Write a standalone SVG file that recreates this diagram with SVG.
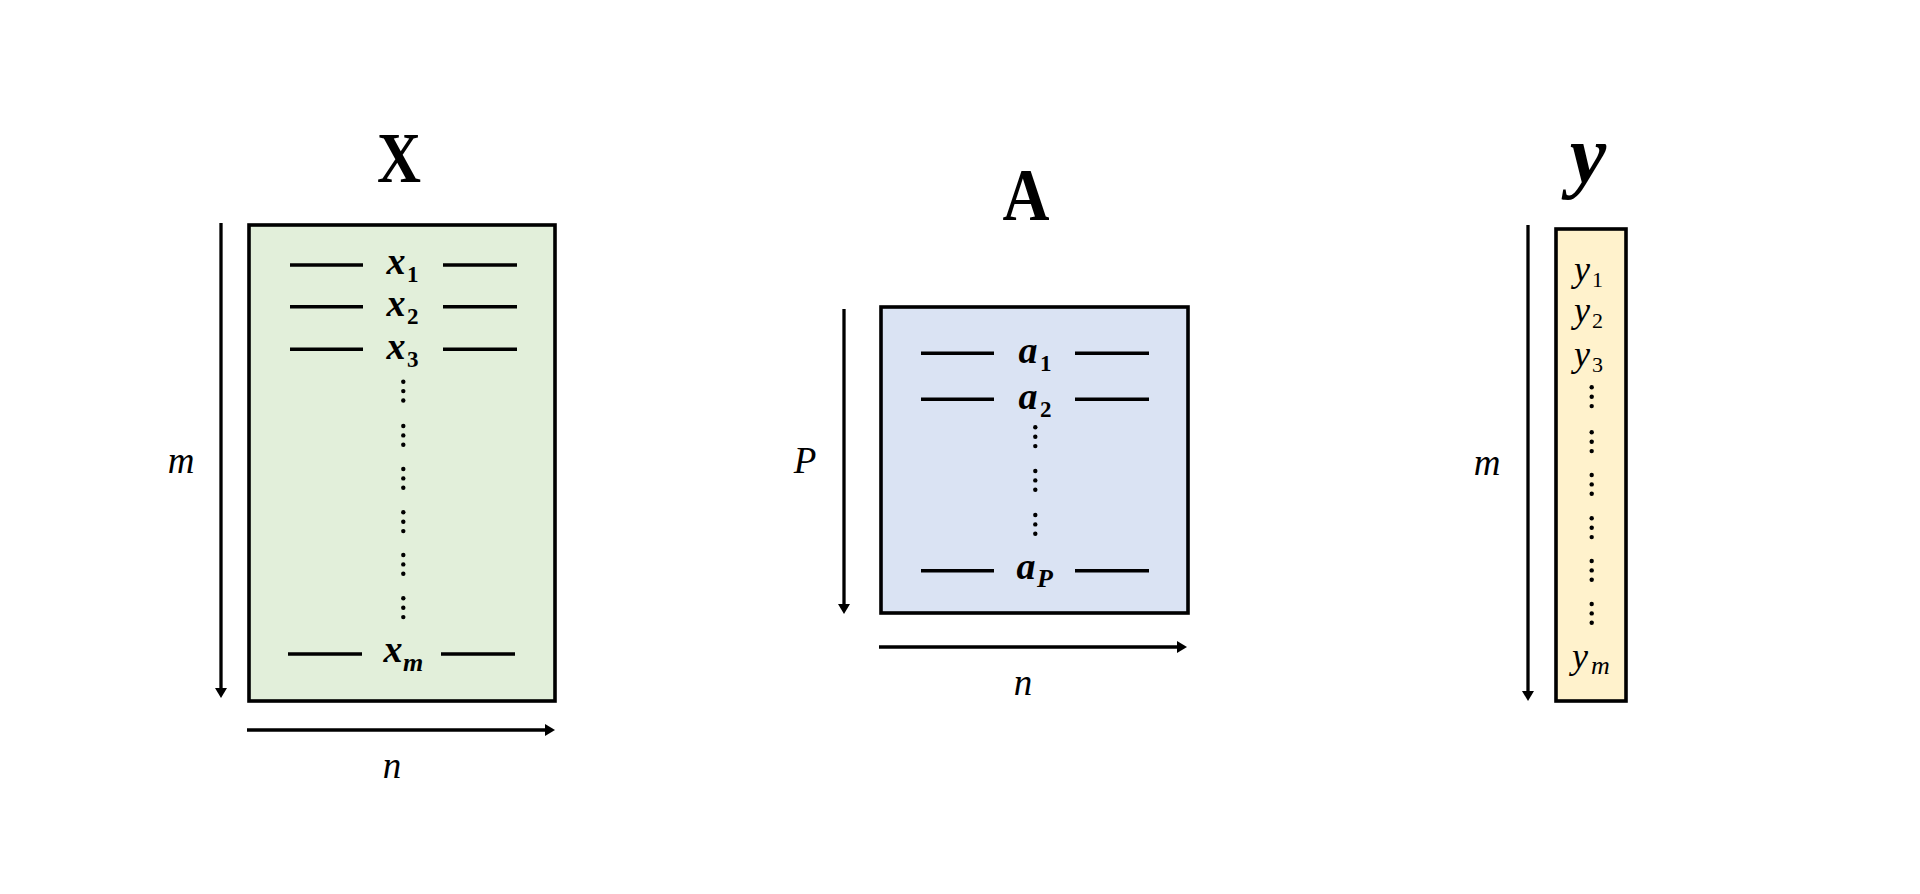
<svg xmlns="http://www.w3.org/2000/svg" xmlns:xlink="http://www.w3.org/1999/xlink" width="1920" height="894" viewBox="0 0 1920 894">
  <style>
    .box { stroke: #000; stroke-width: 3.6; }
    .row { stroke: #000; stroke-width: 3.4; }
    .axis { stroke: #000; stroke-width: 3.3; fill: none; }
    .t { font-family: "Liberation Serif", "Times New Roman", serif; fill: #000; }
    .title { font-weight: bold; text-anchor: middle; }
    .vb { font-weight: bold; font-style: italic; font-size: 38px; text-anchor: middle; }
    .sb { font-weight: bold; font-size: 23px; }
    .sbi { font-weight: bold; font-style: italic; font-size: 26px; }
    .dim { font-style: italic; font-size: 37px; text-anchor: middle; }
    .yi { font-style: italic; font-size: 36px; text-anchor: middle; }
    .ys { font-size: 22px; }
    .ysi { font-style: italic; font-size: 26px; }
  </style>
  <defs>
    <marker id="arrow" viewBox="0 0 10 12" refX="1" refY="6" markerWidth="10" markerHeight="12" markerUnits="userSpaceOnUse" orient="auto">
      <path d="M0,0 L10,6 L0,12 z" fill="#000"/>
    </marker>
    <g id="vdots">
      <circle cx="0" cy="0" r="2.2" fill="#000"/>
      <circle cx="0" cy="9.4" r="2.2" fill="#000"/>
      <circle cx="0" cy="18.8" r="2.2" fill="#000"/>
    </g>
  </defs>
  <rect width="1920" height="894" fill="#fff"/>

  <g id="matrix-X">
    <text class="t title" x="399" y="182" font-size="72" textLength="44" lengthAdjust="spacingAndGlyphs">X</text>
    <rect class="box" x="249" y="225" width="306" height="476" fill="#E2EFDA"/>
    <line class="row" x1="290" y1="265" x2="363" y2="265"/>
    <line class="row" x1="443" y1="265" x2="517" y2="265"/>
    <text class="t vb" x="396" y="274">x</text><text class="t sb" x="407" y="282">1</text>
    <line class="row" x1="290" y1="306.7" x2="363" y2="306.7"/>
    <line class="row" x1="443" y1="306.7" x2="517" y2="306.7"/>
    <text class="t vb" x="396" y="316">x</text><text class="t sb" x="407" y="324">2</text>
    <line class="row" x1="290" y1="349.3" x2="363" y2="349.3"/>
    <line class="row" x1="443" y1="349.3" x2="517" y2="349.3"/>
    <text class="t vb" x="396" y="359">x</text><text class="t sb" x="407" y="367">3</text>
    <use xlink:href="#vdots" x="403.3" y="381.7"/>
    <use xlink:href="#vdots" x="403.3" y="426"/>
    <use xlink:href="#vdots" x="403.3" y="469"/>
    <use xlink:href="#vdots" x="403.3" y="512.3"/>
    <use xlink:href="#vdots" x="403.3" y="555"/>
    <use xlink:href="#vdots" x="403.3" y="598.3"/>
    <line class="row" x1="288" y1="654" x2="362" y2="654"/>
    <line class="row" x1="441" y1="654" x2="515" y2="654"/>
    <text class="t vb" x="393" y="662">x</text><text class="t sbi" x="403" y="671">m</text>
  </g>

  <g id="matrix-A">
    <text class="t title" x="1026" y="220" font-size="74" textLength="47" lengthAdjust="spacingAndGlyphs">A</text>
    <rect class="box" x="881" y="307" width="307" height="306" fill="#DAE3F3"/>
    <line class="row" x1="921" y1="353.3" x2="994" y2="353.3"/>
    <line class="row" x1="1075" y1="353.3" x2="1149" y2="353.3"/>
    <text class="t vb" x="1028" y="363">a</text><text class="t sb" x="1040" y="370.5">1</text>
    <line class="row" x1="921" y1="399.3" x2="994" y2="399.3"/>
    <line class="row" x1="1075" y1="399.3" x2="1149" y2="399.3"/>
    <text class="t vb" x="1028" y="409">a</text><text class="t sb" x="1040" y="416.5">2</text>
    <use xlink:href="#vdots" x="1035.3" y="427.3"/>
    <use xlink:href="#vdots" x="1035.3" y="471"/>
    <use xlink:href="#vdots" x="1035.3" y="515"/>
    <line class="row" x1="921" y1="570.7" x2="994" y2="570.7"/>
    <line class="row" x1="1075" y1="570.7" x2="1149" y2="570.7"/>
    <text class="t vb" x="1026" y="579">a</text><text class="t sbi" x="1037" y="586.5">P</text>
  </g>

  <g id="vector-y">
    <text class="t title" x="1588" y="182" font-size="82" font-style="italic">y</text>
    <rect class="box" x="1556" y="229" width="70" height="472" fill="#FFF2CC"/>
    <text class="t yi" x="1582" y="280.5">y</text><text class="t ys" x="1592" y="286.7">1</text>
    <text class="t yi" x="1582" y="322">y</text><text class="t ys" x="1592" y="328.3">2</text>
    <text class="t yi" x="1582" y="365.5">y</text><text class="t ys" x="1592" y="371.7">3</text>
    <use xlink:href="#vdots" x="1591.7" y="387.3"/>
    <use xlink:href="#vdots" x="1591.7" y="432.3"/>
    <use xlink:href="#vdots" x="1591.7" y="475"/>
    <use xlink:href="#vdots" x="1591.7" y="518.3"/>
    <use xlink:href="#vdots" x="1591.7" y="561"/>
    <use xlink:href="#vdots" x="1591.7" y="604"/>
    <text class="t yi" x="1580" y="668">y</text><text class="t ysi" x="1591" y="673.5">m</text>
  </g>

  <g id="connectors">
    <line class="axis" x1="221" y1="223" x2="221" y2="689" marker-end="url(#arrow)"/>
    <line class="axis" x1="247" y1="730" x2="546" y2="730" marker-end="url(#arrow)"/>
    <line class="axis" x1="844" y1="309" x2="844" y2="605" marker-end="url(#arrow)"/>
    <line class="axis" x1="879" y1="647" x2="1178" y2="647" marker-end="url(#arrow)"/>
    <line class="axis" x1="1528" y1="225" x2="1528" y2="692" marker-end="url(#arrow)"/>
    <text class="t dim" x="181" y="473">m</text>
    <text class="t dim" x="392" y="778">n</text>
    <text class="t dim" x="805" y="473" font-size="31">P</text>
    <text class="t dim" x="1023" y="695">n</text>
    <text class="t dim" x="1487" y="475">m</text>
  </g>
</svg>
